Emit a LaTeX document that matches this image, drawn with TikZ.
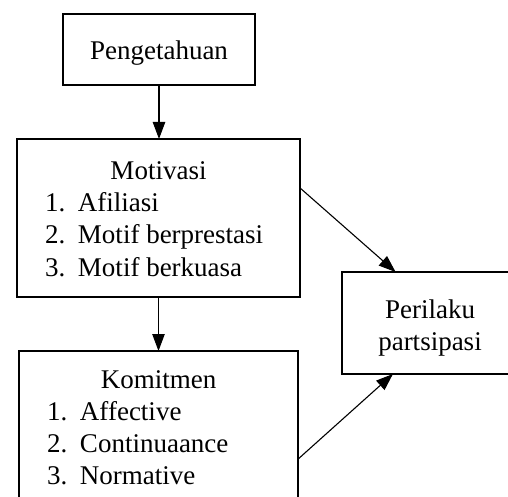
\documentclass[tikz,border=0pt]{standalone}
\usepackage{fontspec}
\setmainfont{Liberation Serif}
\usetikzlibrary{arrows.meta}

% one numbered line inside a box
\newcommand{\listline}[2]{\hspace*{14pt}\makebox[16.5pt][l]{#1}#2}

\begin{document}
\begin{tikzpicture}[
    x=0.5pt, y=-0.5pt,
    every node/.style={font=\fontsize{13.5}{16}\selectfont},
    block/.style={draw, line width=0.55pt, inner sep=0pt, outer sep=0pt, anchor=north west},
    link/.style={line width=0.55pt, -{Triangle[length=8.5pt, width=6.2pt]}}
]

% Frame of the picture
\clip (0,0) rectangle (508,497);

% ── Boxes ──
\node[block, minimum width=96pt, text height=23pt, text depth=12.5pt] (peng) at (63,14) {Pengetahuan};

\node[block, text height=20.5pt, text depth=58.5pt] (moti) at (17,139) {%
    \begin{tabular}[t]{@{}p{141.5pt}@{}}
    \makebox[\linewidth]{Motivasi}\\
    \listline{1.}{Afiliasi}\\
    \listline{2.}{Motif berprestasi}\\
    \listline{3.}{Motif berkuasa}
    \end{tabular}};

\node[block, text height=18.5pt, text depth=60pt] (komi) at (19,351) {%
    \begin{tabular}[t]{@{}p{139.5pt}@{}}
    \makebox[\linewidth]{Komitmen}\\
    \listline{1.}{Affective}\\
    \listline{2.}{Continuaance}\\
    \listline{3.}{Normative}
    \end{tabular}};

\node[block, minimum width=88pt, text height=23pt, text depth=28pt] (perl) at (342,272) {%
    \begin{tabular}[t]{@{}c@{}}
    Perilaku\\
    partsipasi
    \end{tabular}};

% ── Arrows ──
\draw[link] (peng.south) -- (peng.south |- moti.north);
\draw[link] (moti.south) -- (komi.north);
\draw[link] (moti.12) -- (perl.124.5);
\draw[link] (komi.-12.3) -- (perl.234);

\end{tikzpicture}
\end{document}
